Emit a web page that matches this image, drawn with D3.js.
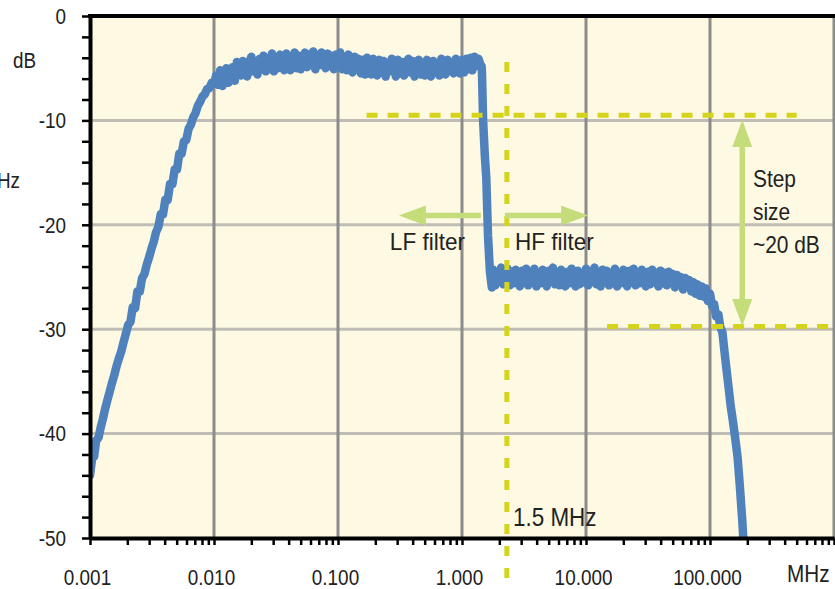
<!DOCTYPE html>
<html lang="en">
<head>
<meta charset="UTF-8">
<title>LF / HF filter step</title>
<script src="https://cdn.jsdelivr.net/npm/d3@7"></script>
<style>
  body { margin: 0; background: #fff; }
  svg text { font-family: "Liberation Sans", Arial, sans-serif; fill: #222; }
</style>
</head>
<body>
<svg width="835" height="589" id="mainsvg"></svg>
<script>
// measured trace: frequency in MHz, level in dB
const freq = [
  // rising edge
  0.00100, 0.00104, 0.00108, 0.00112, 0.00117, 0.00122, 0.00127, 0.00132, 0.00138, 0.00144,
  0.00150, 0.00157, 0.00164, 0.00171, 0.00178, 0.00186, 0.00194, 0.00203, 0.00212, 0.00221,
  0.00231, 0.00241, 0.00252, 0.00263, 0.00275, 0.00287, 0.00300, 0.00313, 0.00327, 0.00341,
  0.00356, 0.00372, 0.00388, 0.00405, 0.00423, 0.00442, 0.00462, 0.00482, 0.00503, 0.00525,
  0.00548, 0.00572, 0.00597, 0.00624, 0.00651, 0.00680, 0.00710, 0.00741, 0.00774, 0.00808,
  0.00843, 0.00880, 0.00919, 0.00960, 0.0100,
  // LF plateau
  0.0104, 0.0108, 0.0112, 0.0117, 0.0121, 0.0126, 0.0131, 0.0136, 0.0141, 0.0147,
  0.0153, 0.0158, 0.0165, 0.0171, 0.0178, 0.0185, 0.0192, 0.0200, 0.0207, 0.0215,
  0.0224, 0.0233, 0.0242, 0.0251, 0.0261, 0.0271, 0.0282, 0.0293, 0.0304, 0.0316,
  0.0329, 0.0341, 0.0355, 0.0369, 0.0383, 0.0398, 0.0414, 0.0430, 0.0447, 0.0464,
  0.0482, 0.0501, 0.0521, 0.0541, 0.0562, 0.0584, 0.0607, 0.0631, 0.0656, 0.0681,
  0.0708, 0.0736, 0.0764, 0.0794, 0.0825, 0.0858, 0.0891, 0.0926, 0.0962, 0.100,
  0.104, 0.108, 0.112, 0.117, 0.121, 0.126, 0.131, 0.136, 0.141, 0.147,
  0.153, 0.158, 0.165, 0.171, 0.178, 0.185, 0.192, 0.200, 0.207, 0.215,
  0.224, 0.233, 0.242, 0.251, 0.261, 0.271, 0.282, 0.293, 0.304, 0.316,
  0.329, 0.341, 0.355, 0.369, 0.383, 0.398, 0.414, 0.430, 0.447, 0.464,
  0.482, 0.501, 0.521, 0.541, 0.562, 0.584, 0.607, 0.631, 0.656, 0.681,
  0.708, 0.736, 0.764, 0.794, 0.825, 0.858, 0.891, 0.926, 0.962, 1.00,
  1.04, 1.08, 1.12, 1.17, 1.21, 1.26, 1.31, 1.36, 1.41, 1.44,
  // crossover drop
  1.45, 1.48, 1.53, 1.57, 1.62, 1.68, 1.74,
  // HF plateau
  1.78, 1.85, 1.92, 2.00, 2.07, 2.15, 2.24, 2.33, 2.42, 2.51,
  2.61, 2.71, 2.82, 2.93, 3.04, 3.16, 3.29, 3.41, 3.55, 3.69,
  3.83, 3.98, 4.14, 4.30, 4.47, 4.64, 4.82, 5.01, 5.21, 5.41,
  5.62, 5.84, 6.07, 6.31, 6.56, 6.81, 7.08, 7.36, 7.64, 7.94,
  8.25, 8.58, 8.91, 9.26, 9.62, 10.0, 10.4, 10.8, 11.2, 11.7,
  12.1, 12.6, 13.1, 13.6, 14.1, 14.7, 15.3, 15.8, 16.5, 17.1,
  17.8, 18.5, 19.2, 20.0, 20.7, 21.5, 22.4, 23.3, 24.2, 25.1,
  26.1, 27.1, 28.2, 29.3, 30.4, 31.6, 32.9, 34.1, 35.5, 36.9,
  38.3, 39.8, 41.4, 43.0, 44.7, 46.4, 48.2, 50.1, 52.1, 54.1,
  56.2, 58.4, 60.7, 63.1, 65.6, 68.1, 70.8, 73.6, 76.4, 79.4,
  82.5, 85.8, 89.1, 92.6, 96.2, 100, 104, 108, 112, 117,
  121, 126,
  // HF roll-off
  131, 136, 141, 147, 153, 160, 167, 174, 182, 186
];
const level = [
  -44.0, -42.4, -42.2, -40.7, -40.4, -39.4, -38.6, -37.7, -36.8, -36.0,
  -35.2, -34.4, -33.5, -32.8, -32.2, -31.3, -30.5, -29.6, -29.3, -27.9,
  -28.0, -26.4, -26.4, -25.1, -24.7, -23.8, -23.1, -22.3, -21.6, -20.7,
  -20.2, -19.0, -19.0, -17.6, -17.6, -16.1, -16.1, -14.7, -14.7, -13.2,
  -13.2, -12.0, -11.9, -10.8, -10.4, -9.7, -9.3, -8.6, -8.2, -7.7,
  -7.5, -7.0, -6.9, -6.4, -6.5,
  -5.7, -6.6, -5.2, -6.7, -5.6, -5.0, -6.4, -5.8, -4.9, -6.2,
  -4.4, -5.1, -5.7, -4.3, -5.2, -5.8, -4.5, -3.9, -5.3, -4.4,
  -5.6, -4.1, -4.7, -3.8, -5.3, -4.3, -5.1, -3.6, -5.3, -4.1,
  -5.0, -3.7, -4.8, -5.2, -3.6, -4.0, -5.2, -4.2, -3.5, -5.0,
  -3.8, -5.1, -4.4, -3.5, -4.9, -3.7, -4.6, -3.4, -5.1, -3.9,
  -4.7, -3.5, -4.3, -5.0, -3.6, -4.8, -3.8, -5.1, -3.7, -4.5,
  -3.5, -5.1, -4.1, -5.2, -3.7, -4.8, -5.4, -3.9, -5.1, -4.1,
  -5.5, -4.2, -5.6, -4.0, -5.1, -5.6, -4.1, -4.9, -5.7, -4.2,
  -5.4, -4.3, -5.8, -4.5, -5.3, -4.1, -5.0, -5.8, -4.2, -5.5,
  -4.4, -5.7, -4.6, -4.1, -5.4, -4.3, -5.8, -4.8, -4.2, -5.6,
  -4.5, -5.7, -4.2, -5.1, -5.8, -4.3, -5.4, -4.5, -5.7, -4.1,
  -5.0, -5.6, -4.2, -5.3, -4.5, -5.5, -4.1, -4.9, -5.5, -4.2,
  -5.4, -4.1, -5.1, -4.0, -5.2, -3.9, -4.8, -4.1, -4.7, -4.8,
  -5.6, -10.0, -13.5, -15.5, -21.0, -24.5, -26.0,
  -24.3, -25.8, -24.6, -25.4, -24.1, -25.7, -24.9, -24.2, -25.8, -24.5,
  -25.6, -24.3, -25.1, -25.9, -24.4, -25.5, -24.2, -25.8, -24.7, -25.3,
  -24.2, -25.9, -24.8, -25.6, -24.3, -25.2, -25.9, -24.4, -25.4, -24.1,
  -25.7, -24.6, -25.8, -24.3, -25.0, -25.9, -24.5, -25.6, -24.2, -25.3,
  -25.9, -24.4, -25.7, -24.8, -25.5, -24.2, -25.8, -24.6, -25.4, -24.1,
  -25.7, -24.9, -25.9, -24.3, -25.5, -24.4, -25.8, -24.7, -25.3, -24.2,
  -25.9, -24.6, -25.6, -24.3, -25.1, -25.9, -24.4, -25.5, -24.2, -25.8,
  -24.7, -25.6, -24.3, -25.2, -25.9, -24.5, -25.7, -24.3, -25.4, -24.6,
  -25.9, -24.4, -25.6, -24.6, -25.8, -24.5, -25.5, -24.7, -26.0, -24.8,
  -25.7, -25.0, -26.2, -25.1, -25.9, -25.3, -26.4, -25.5, -26.6, -25.7,
  -26.8, -25.9, -26.9, -26.1, -27.3, -26.6, -27.8, -27.6, -28.8, -28.6,
  -29.8, -30.3,
  -32.2, -33.9, -35.5, -37.4, -38.8, -40.5, -42.3, -45.0, -48.3, -50.2
];

const xTicks = [0.001, 0.01, 0.1, 1, 10, 100];
const xTickLabels = ['0.001', '0.010', '0.100', '1.000', '10.000', '100.000'];
const yTicks = [0, -10, -20, -30, -40, -50];
const yTickLabels = ['0', '-10', '-20', '-30', '-40', '-50'];

// annotations (MHz, dB)
const crossoverFreq = 2.3;
const crossoverLabel = '1.5 MHz';
const stepUpper = { from: 0.17, to: 500, level: -9.5 };
const stepLower = { from: 14.8, to: 1000, level: -29.75 };
const stepArrow = { freq: 182, top: -9.95, bottom: -29.7 };
const lfArrow = { from: 1.42, to: 0.31, level: -19.1 };
const hfArrow = { from: 2.22, to: 10.4, level: -19.1 };

const svg = d3.select('#mainsvg');
const width = +svg.attr('width');
const height = +svg.attr('height');
const margin = { top: 16, right: 1, bottom: 51, left: 90 };
const innerWidth = width - margin.left - margin.right;
const innerHeight = height - margin.top - margin.bottom;

const xScale = d3.scaleLog().domain([0.001, 1000]).range([0, innerWidth]);
const yScale = d3.scaleLinear().domain([-50, 0]).range([innerHeight, 0]);

// the original type is a condensed face: squeeze the text horizontally
function label(parent, x, y, txt, size, k) {
  return parent.append('text')
    .attr('transform', `scale(${k},1)`)
    .attr('x', x / k).attr('y', y)
    .attr('font-size', size)
    .text(txt);
}

const g = svg.append('g').attr('transform', `translate(${margin.left},${margin.top})`);

// plot background
g.append('rect').attr('width', innerWidth + 2).attr('height', innerHeight).attr('fill', '#fdf9e3');

// grid
g.selectAll('.hgrid').data(yTicks.slice(1, -1)).join('line')
  .attr('x1', 0).attr('x2', innerWidth + 2)
  .attr('y1', d => yScale(d)).attr('y2', d => yScale(d))
  .attr('stroke', '#bfbdb5').attr('stroke-width', 3);
g.selectAll('.vgrid').data(xTicks.slice(1).concat([1000])).join('line')
  .attr('x1', d => xScale(d)).attr('x2', d => xScale(d))
  .attr('y1', 0).attr('y2', innerHeight)
  .attr('stroke', '#8c8c8c').attr('stroke-width', 3);

// trace
g.append('clipPath').attr('id', 'plotclip')
  .append('rect').attr('width', innerWidth + 2).attr('height', innerHeight);
const trace = d3.line().x(d => xScale(d[0])).y(d => yScale(d[1]));
g.append('path')
  .datum(d3.zip(freq, level))
  .attr('clip-path', 'url(#plotclip)')
  .attr('d', trace)
  .attr('fill', 'none')
  .attr('stroke', '#4f81bd')
  .attr('stroke-width', 8.5)
  .attr('stroke-linejoin', 'round')
  .attr('stroke-linecap', 'round');

// step level dashed lines
const dashColor = '#d4d41c';
[stepUpper, stepLower].forEach(s => {
  g.append('line')
    .attr('x1', xScale(s.from)).attr('x2', Math.min(xScale(s.to), innerWidth + 2))
    .attr('y1', yScale(s.level)).attr('y2', yScale(s.level))
    .attr('stroke', dashColor).attr('stroke-width', 5)
    .attr('stroke-dasharray', '11,10');
});

// crossover line
g.append('line')
  .attr('x1', xScale(crossoverFreq)).attr('x2', xScale(crossoverFreq))
  .attr('y1', yScale(-4.4)).attr('y2', height - margin.top)
  .attr('stroke', dashColor).attr('stroke-width', 5)
  .attr('stroke-dasharray', '10,12');
label(g, xScale(2.58), yScale(-48.85), crossoverLabel, 25.5, 0.88);

// arrows
const arrowColor = '#c5dc7b';
function arrow(x1, y1, x2, y2) {
  const len = Math.hypot(x2 - x1, y2 - y1);
  const ux = (x2 - x1) / len, uy = (y2 - y1) / len;
  const hl = 27, hw = 10;
  const bx = x2 - ux * hl, by = y2 - uy * hl;
  g.append('line')
    .attr('x1', x1).attr('y1', y1).attr('x2', bx).attr('y2', by)
    .attr('stroke', arrowColor).attr('stroke-width', 5.5);
  g.append('path')
    .attr('d', `M${x2},${y2}L${bx - uy * hw},${by + ux * hw}L${bx + uy * hw},${by - ux * hw}Z`)
    .attr('fill', arrowColor);
}
arrow(xScale(lfArrow.from), yScale(lfArrow.level), xScale(lfArrow.to), yScale(lfArrow.level));
arrow(xScale(hfArrow.from), yScale(hfArrow.level), xScale(hfArrow.to), yScale(hfArrow.level));
const sx = xScale(stepArrow.freq);
const midY = (yScale(stepArrow.top) + yScale(stepArrow.bottom)) / 2;
arrow(sx, midY, sx, yScale(stepArrow.top));
arrow(sx, midY, sx, yScale(stepArrow.bottom));

label(g, xScale(0.262), yScale(-22.4), 'LF filter', 23, 0.98);
label(g, xScale(2.67), yScale(-22.4), 'HF filter', 23, 0.98);
['Step', 'size', '~20 dB'].forEach((t, i) => {
  label(g, xScale(222), yScale(-16.4) + i * 33, t, 23, 0.91);
});

// axes
const tickK = 0.84;
const minorX = [];
xTicks.concat([1000]).forEach(d => { for (let k = 1; k < 10; k++) if (d * k <= 1000) minorX.push(d * k); });
const xAxis = d3.axisBottom(xScale)
  .tickValues(minorX)
  .tickSize(7).tickSizeOuter(0)
  .tickFormat(d => { const i = xTicks.indexOf(d); return i >= 0 ? xTickLabels[i] : ''; });
const xg = g.append('g').attr('transform', `translate(0,${innerHeight})`).call(xAxis);
xg.selectAll('text')
  .attr('transform', `scale(${tickK},1)`)
  .attr('y', 47).attr('dy', 0).attr('x', -3 / tickK)
  .attr('font-size', 22.5).attr('fill', '#222');

const yAxis = d3.axisLeft(yScale)
  .tickValues(d3.range(0, -52, -2))
  .tickSize(8).tickSizeOuter(0)
  .tickFormat(d => { const i = yTicks.indexOf(d); return i >= 0 ? yTickLabels[i] : ''; });
const yg = g.append('g').call(yAxis);
yg.selectAll('text')
  .attr('transform', `scale(${tickK},1)`)
  .attr('x', -24 / tickK)
  .attr('font-size', 22.5).attr('fill', '#222');

[xg, yg].forEach(a => {
  a.selectAll('.tick text').filter(function () { return this.textContent === ''; }).remove();
  a.select('.domain').attr('stroke', '#000').attr('stroke-width', 4);
  a.selectAll('.tick line').attr('stroke', '#000').attr('stroke-width', 2.5);
});

// top frame
g.append('line').attr('x1', -2).attr('x2', innerWidth + 2).attr('y1', 0).attr('y2', 0)
  .attr('stroke', '#000').attr('stroke-width', 4);

// units
label(svg, 13, 68, 'dB', 22.5, tickK);
label(svg, 20, 188, 'MHz', 22.5, tickK).attr('text-anchor', 'end');
label(svg, 787, 582, 'MHz', 23, 0.9);
</script>
</body>
</html>
